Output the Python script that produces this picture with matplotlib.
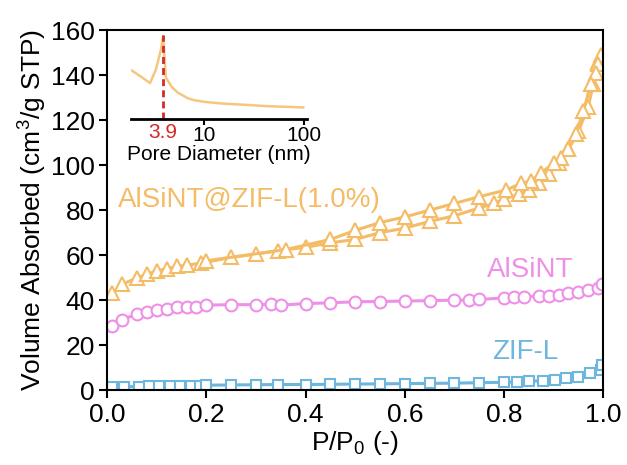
import numpy as np
import matplotlib
matplotlib.use("Agg")
import matplotlib.pyplot as plt

plt.rcParams['font.family'] = ['Liberation Sans', 'DejaVu Sans']
plt.rcParams['mathtext.fontset'] = 'custom'
plt.rcParams['mathtext.rm'] = 'Liberation Sans'

# N2 isotherms
comp_ads_x = [0.01, 0.03, 0.06, 0.08, 0.10, 0.12, 0.14, 0.16, 0.19, 0.25, 0.30,
              0.345, 0.40, 0.45, 0.50, 0.55, 0.60, 0.65, 0.70, 0.75, 0.78, 0.80,
              0.83, 0.85, 0.87, 0.89, 0.91, 0.93, 0.95, 0.97, 0.98, 0.99]
comp_ads_y = [43, 47, 50, 51.5, 53, 54, 55, 55.5, 56.5, 59, 60.5,
              62, 63.5, 65.5, 67, 70, 72, 75, 77.5, 81, 83, 85,
              87, 89, 92, 96, 101, 107, 115, 126, 136, 146]
comp_des_x = [0.995, 0.99, 0.985, 0.975, 0.96, 0.945, 0.93, 0.915, 0.90, 0.875,
              0.855, 0.835, 0.805, 0.75, 0.70, 0.65, 0.60, 0.55, 0.50, 0.45,
              0.36, 0.20]
comp_des_y = [149, 145, 141, 136, 124, 114, 107, 103, 101, 96.5,
              93, 92, 89, 86, 83, 80, 77, 74.5, 71, 67,
              62.5, 57.5]

alsint_x = [0.01, 0.03, 0.06, 0.08, 0.10, 0.12, 0.14, 0.16, 0.18, 0.20, 0.25,
            0.30, 0.33, 0.35, 0.40, 0.45, 0.50, 0.55, 0.60, 0.65, 0.70, 0.73,
            0.75, 0.80, 0.82, 0.84, 0.87, 0.89, 0.91, 0.93, 0.95, 0.97, 0.99, 0.997]
alsint_y = [28.6, 31.4, 33.8, 34.8, 35.6, 36, 37, 36.8, 37, 37.8, 38,
            38, 38.2, 37.8, 38.5, 38.8, 39.3, 39.4, 39.6, 39.8, 40, 40,
            40.3, 41, 41.2, 41.5, 41.8, 42, 42.3, 43, 43.7, 44.5, 45.5, 47]

zifl_x = [0.009, 0.033, 0.064, 0.085, 0.105, 0.126, 0.147, 0.168, 0.188, 0.20,
          0.25, 0.30, 0.345, 0.40, 0.45, 0.50, 0.55, 0.60, 0.65, 0.70, 0.75,
          0.80, 0.826, 0.85, 0.878, 0.902, 0.926, 0.95, 0.974, 0.995, 0.997]
zifl_y = [1.5, 1.6, 1.5, 2, 2, 2, 2, 2, 2, 2.2,
          2.3, 2.4, 2.5, 2.5, 2.6, 2.7, 2.8, 2.9, 3.0, 3.1, 3.3,
          3.5, 3.7, 3.9, 4.2, 4.6, 5.2, 6.0, 7.5, 9.0, 11]

# pore size distribution (inset)
pore_d = [1.89, 2.4, 2.88, 3.3, 3.7, 3.9, 4.15, 4.76, 5.5, 6.97, 8.0, 10.2,
          15, 19.5, 30, 42.4, 70, 98.5]
pore_v = [49, 42, 36.3, 50, 70, 84, 42, 32.3, 26.5, 20.7, 19, 17.3,
          15.7, 15, 14, 13, 12.3, 11.7]

orange = '#F4BC66'
pink = '#EE90E8'
blue = '#6DB6DE'

fig = plt.figure(figsize=(6.27, 4.65), dpi=100)
ax = fig.add_axes([0.171, 0.161, 0.791, 0.774])

mk = dict(markerfacecolor='white', markeredgewidth=1.5, linewidth=2.2)
ax.plot(comp_ads_x, comp_ads_y, '-^', color=orange, markersize=10.5, **mk)
ax.plot(comp_des_x, comp_des_y, '-^', color=orange, markersize=10.5, **mk)
ax.plot(alsint_x, alsint_y, '-o', color=pink, markersize=8.5, **mk)
ax.plot(zifl_x, zifl_y, '-s', color=blue, markersize=7, **mk)

ax.text(0.022, 84.5, 'AlSiNT@ZIF-L(1.0%)', color=orange, fontsize=20,
        ha='left', va='center')
ax.text(0.853, 53.5, 'AlSiNT', color=pink, fontsize=20, ha='center', va='center')
ax.text(0.843, 17, 'ZIF-L', color=blue, fontsize=20, ha='center', va='center')

ax.set_xlim(0, 1.0)
ax.set_ylim(0, 160)
ax.set_xticks(np.arange(0, 1.01, 0.2))
ax.set_yticks(np.arange(0, 161, 20))
ax.set_xticklabels(['0.0', '0.2', '0.4', '0.6', '0.8', '1.0'])
ax.tick_params(direction='out', length=6, width=1.5, labelsize=19, pad=3)
for s in ax.spines.values():
    s.set_linewidth(1.5)
ax.set_xlabel('P/P$_\\mathregular{0}$ (-)', fontsize=19, labelpad=2)
ax.set_ylabel('Volume Absorbed (cm$^\\mathregular{3}$/g STP)', fontsize=19,
              labelpad=2)

# inset: BJH pore size distribution
ins = fig.add_axes([0.209, 0.744, 0.281, 0.181])
ins.patch.set_alpha(0)
ins.plot(pore_d, pore_v, color='#F5C77E', linewidth=1.8)
ins.axvline(3.9, ymin=0, ymax=1, color='#D42A2A', linestyle='--', linewidth=2,
            dashes=(2.5, 1.5))
ins.set_xscale('log')
ins.set_xlim(1.86, 108)
ins.set_ylim(0, 85)
for side in ['left', 'right', 'top']:
    ins.spines[side].set_visible(False)
ins.spines['bottom'].set_linewidth(2)
ins.set_yticks([])
ins.set_xticks([10, 100])
ins.set_xticklabels(['10', '100'])
ins.xaxis.set_minor_locator(matplotlib.ticker.NullLocator())
ins.tick_params(axis='x', direction='out', length=4, width=1.5, labelsize=15, pad=1)
ins.text(3.9, -4, '3.9', color='#D42A2A', fontsize=15, ha='center', va='top',
         transform=ins.transData)
ins.set_xlabel('Pore Diameter (nm)', fontsize=15, labelpad=0)

fig.savefig('out.png', dpi=100)
